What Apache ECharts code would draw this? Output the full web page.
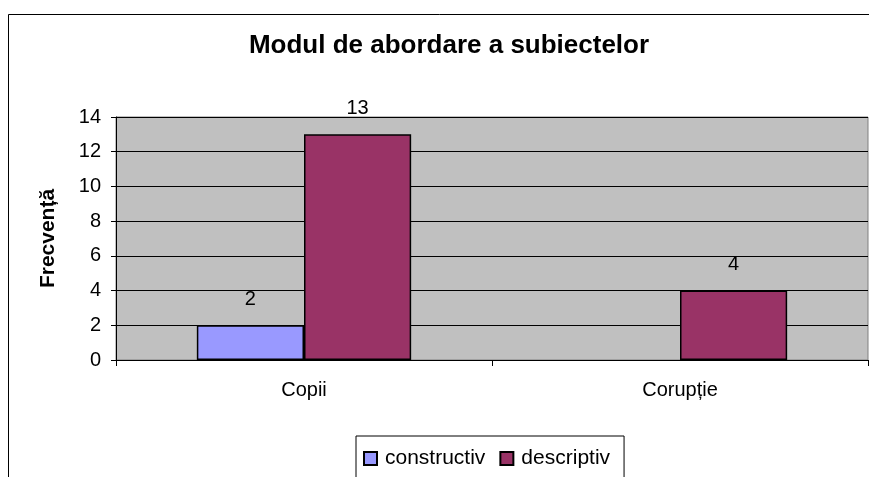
<!DOCTYPE html>
<html>
<head>
<meta charset="utf-8">
<script src="https://cdn.jsdelivr.net/npm/echarts@6/dist/echarts.min.js"></script>
<style>html,body{margin:0;padding:0;background:#fff}#c{width:869px;height:477px}</style>
</head>
<body>
<div id="c"></div>
<script>
const categories = ['Copii', 'Corupție'];
const constructiv = [2, null];
const descriptiv = [13, 4];
const yTicks = { min: 0, max: 14, interval: 2 };
const titleText = 'Modul de abordare a subiectelor';
const yName = 'Frecvență';

const font = '"Liberation Sans", Arial, sans-serif';
const chart = echarts.init(document.getElementById('c'), null, { renderer: 'canvas' });
const labelCfg = { show: true, position: 'top', distance: 16, color: '#000', fontSize: 20, fontFamily: font };
chart.setOption({
  animation: false,
  backgroundColor: '#fff',
  graphic: [
    { type: 'rect', shape: { x: 8.5, y: 14.5, width: 900, height: 500 }, style: { fill: 'none', stroke: '#000', lineWidth: 1 }, z: -1 },
    { type: 'text', x: 449, y: 46, style: { text: titleText, fontSize: 26, fontWeight: 'bold', fontFamily: font, fill: '#000', textAlign: 'center', textVerticalAlign: 'middle' } }
  ],
  grid: { left: 116, top: 117, width: 752, height: 243, show: true, backgroundColor: '#C0C0C0', borderColor: '#808080', borderWidth: 1 },
  legend: {
    data: ['constructiv', 'descriptiv'],
    left: 356, top: 436,
    padding: [12, 14, 40, 7],
    itemGap: 14, itemWidth: 13, itemHeight: 13,
    icon: 'rect',
    borderColor: '#000', borderWidth: 1,
    textStyle: { fontSize: 21, fontFamily: font, color: '#000', padding: [0, 0, 0, 3] }
  },
  xAxis: {
    type: 'category', data: categories,
    axisLine: { lineStyle: { color: '#000', width: 1 } },
    axisTick: { show: true, interval: 0, length: 6, lineStyle: { color: '#000' } },
    axisLabel: { margin: 20, fontSize: 20, fontFamily: font, color: '#000' },
    splitLine: { show: false }
  },
  yAxis: {
    type: 'value', min: yTicks.min, max: yTicks.max, interval: yTicks.interval,
    name: yName, nameLocation: 'middle', nameRotate: 90, nameGap: 57,
    nameTextStyle: { fontSize: 21, fontWeight: 'bold', fontFamily: font, color: '#000' },
    axisLine: { show: true, lineStyle: { color: '#000', width: 1 } },
    axisTick: { show: true, length: 5, lineStyle: { color: '#000' } },
    axisLabel: { margin: 15, fontSize: 20, fontFamily: font, color: '#000' },
    splitLine: { show: true, lineStyle: { color: '#000', width: 1 } }
  },
  series: [
    { name: 'constructiv', type: 'bar', data: constructiv, barGap: '0%', barCategoryGap: '43%',
      itemStyle: { color: '#9999FF', borderColor: '#000', borderWidth: 1.5 }, label: labelCfg },
    { name: 'descriptiv', type: 'bar', data: descriptiv, barGap: '0%', barCategoryGap: '43%',
      itemStyle: { color: '#993366', borderColor: '#000', borderWidth: 1.5 }, label: labelCfg }
  ]
});
</script>
</body>
</html>
